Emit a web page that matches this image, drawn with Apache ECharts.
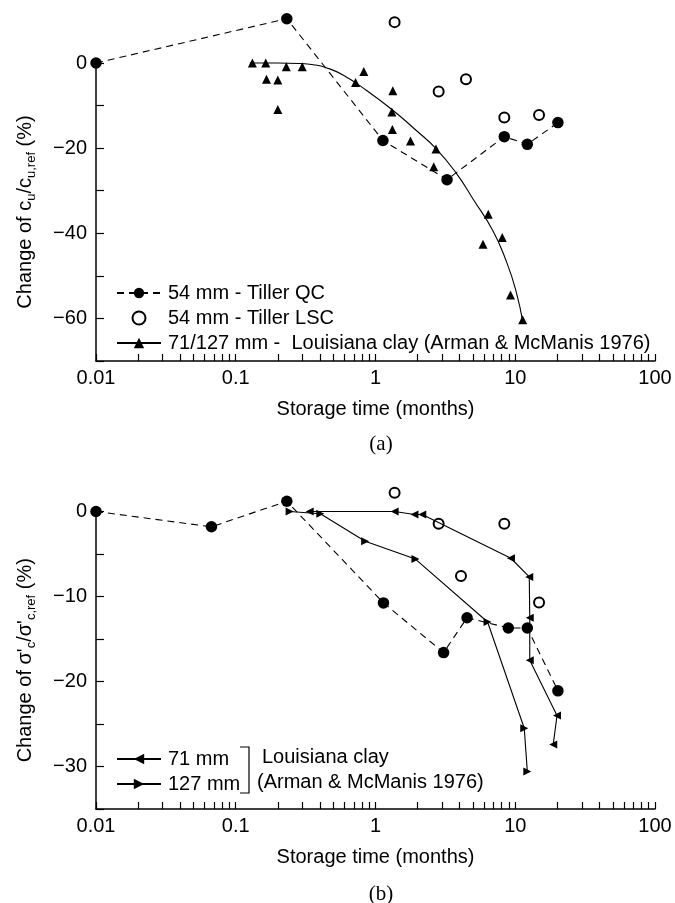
<!DOCTYPE html>
<html>
<head>
<meta charset="utf-8">
<script src="https://cdn.jsdelivr.net/npm/echarts@6/dist/echarts.min.js"></script>
<style>
  html, body { margin: 0; padding: 0; background: #fff; }
  #chart { width: 675px; height: 903px; }
</style>
</head>
<body>
<div id="chart"></div>
<script>
// storage time axis (months, log scale)
const xTickLabels = ['0.01', '0.1', '1', '10', '100'];
const xTickValues = [
  0.01, 0.02, 0.03, 0.04, 0.05, 0.06, 0.07, 0.08, 0.09,
  0.1, 0.2, 0.3, 0.4, 0.5, 0.6, 0.7, 0.8, 0.9,
  1, 2, 3, 4, 5, 6, 7, 8, 9,
  10, 20, 30, 40, 50, 60, 70, 80, 90, 100
];
const yLabelsA = [-60, -40, -20, 0];
const yLabelsB = [-30, -20, -10, 0];

// (a) change of cu/cu,ref (%)
const qcA = [[0.01, 0], [0.232, 10.4], [1.13, -18.2], [3.25, -27.4], [8.35, -17.3], [12.2, -19.1], [20.2, -14.0]];
const lscA = [[1.37, 9.6], [2.83, -6.7], [4.44, -3.8], [8.35, -12.8], [14.8, -12.2]];
const clayA = [
  [0.1315, 0], [0.164, 0], [0.23, -0.9], [0.299, -0.9], [0.166, -3.8], [0.2, -4.0], [0.2, -10.9],
  [0.825, -2.0], [0.72, -4.6], [1.33, -6.5], [1.31, -11.5], [1.32, -15.6], [1.78, -18.3],
  [2.71, -20.2], [2.61, -24.4], [6.41, -35.5], [5.88, -42.6], [8.07, -41.0], [9.25, -54.5], [11.3, -60.3]
];
const clayFitA = [
  [0.126, 0], [0.2, 0], [0.28, -0.1], [0.36, -0.4], [0.445, -1.1], [0.585, -2.8], [0.859, -6.4], [1.33, -11.1],
  [1.95, -15.8], [2.71, -20.1], [3.77, -25.8], [5.0, -32.0], [6.89, -39.3], [8.59, -46.4], [10.1, -53.4], [11.4, -61.3]
];

// (b) change of σ'c/σ'c,ref (%)
const qcB = [[0.01, 0], [0.067, -1.8], [0.232, 1.2], [1.14, -10.75], [3.07, -16.6], [4.52, -12.5], [8.92, -13.7], [12.2, -13.7], [20.2, -21.1]];
const lscB = [[1.37, 2.2], [2.83, -1.45], [4.09, -7.6], [8.35, -1.45], [14.8, -10.7]];
const mm71B = [[0.338, 0], [1.37, 0], [1.9, -0.35], [2.16, -0.35], [9.31, -5.5], [12.6, -7.7], [12.7, -12.5], [12.7, -17.5], [19.9, -24.0], [18.7, -27.4]];
const mm127B = [[0.243, 0], [0.403, -0.27], [0.843, -3.5], [1.93, -5.6], [6.34, -13.0], [11.6, -25.5], [12.2, -30.6]];

const FONT = 'Liberation Sans, Arial, sans-serif';
const SERIF = 'Liberation Serif, Times New Roman, serif';
const BLACK = '#000';

const chart = echarts.init(document.getElementById('chart'));

function xAxisFor(gridIndex) {
  return {
    type: 'log',
    logBase: 10,
    min: 0.01,
    max: 100,
    gridIndex: gridIndex,
    axisLine: { onZero: false, lineStyle: { color: BLACK, width: 1.5 } },
    axisTick: { inside: true, length: 7, customValues: xTickValues, lineStyle: { color: BLACK, width: 1.2 } },
    axisLabel: {
      color: BLACK, fontSize: 20, fontFamily: FONT, margin: 7,
      formatter: v => xTickLabels[Math.round(Math.log10(v)) + 2]
    },
    splitLine: { show: false },
    minorTick: { show: false },
    name: 'Storage time (months)',
    nameLocation: 'middle',
    nameGap: 38,
    nameTextStyle: { color: BLACK, fontSize: 20, fontFamily: FONT }
  };
}

function yAxisFor(gridIndex, min, interval, labels, name) {
  return {
    type: 'value',
    min: min,
    max: 0,
    interval: interval,
    gridIndex: gridIndex,
    axisLine: { show: true, onZero: false, lineStyle: { color: BLACK, width: 1.5 } },
    axisTick: { show: true, inside: true, length: 8, lineStyle: { color: BLACK, width: 1.2 } },
    axisLabel: {
      color: BLACK, fontSize: 20, fontFamily: FONT, margin: 9,
      formatter: v => labels.includes(v) ? (v === 0 ? '0' : '\u2212' + Math.abs(v)) : ''
    },
    splitLine: { show: false },
    name: name,
    nameLocation: 'middle',
    nameRotate: 90,
    nameGap: 58,
    nameTextStyle: {
      color: BLACK, fontSize: 20, fontFamily: FONT, lineHeight: 26,
      rich: {
        sub: { fontSize: 13, lineHeight: 13, fontFamily: FONT, color: BLACK, verticalAlign: 'bottom' }
      }
    }
  };
}

const legendText = { color: BLACK, fontSize: 20, fontFamily: FONT, lineHeight: 20, padding: [0, 0, 0, 2] };

const option = {
  animation: false,
  backgroundColor: '#fff',
  title: [
    { text: '(a)', left: 376, top: 429, textAlign: 'center', textStyle: { fontFamily: SERIF, fontSize: 21, fontWeight: 'normal', color: BLACK } },
    { text: '(b)', left: 376, top: 879, textAlign: 'center', textStyle: { fontFamily: SERIF, fontSize: 21, fontWeight: 'normal', color: BLACK } }
  ],
  grid: [
    { left: 96, top: 63, width: 559, height: 298 },
    { left: 96, top: 511.5, width: 559, height: 297.5 }
  ],
  xAxis: [xAxisFor(0), xAxisFor(1)],
  yAxis: [
    yAxisFor(0, -70, 10, yLabelsA, 'Change of c{sub|u}/c{sub|u,ref} (%)'),
    yAxisFor(1, -35, 5, yLabelsB, "Change of \u03c3'{sub|c}/\u03c3'{sub|c,ref} (%)")
  ],
  legend: [
    {
      data: ['54 mm - Tiller QC', '54 mm - Tiller LSC', '71/127 mm -  Louisiana clay (Arman & McManis 1976)'],
      orient: 'vertical', left: 111, top: 278, itemWidth: 44, itemHeight: 13, itemGap: 5,
      textStyle: legendText, selectedMode: false
    },
    {
      data: ['71 mm', '127 mm'],
      orient: 'vertical', left: 111, top: 744, itemWidth: 44, itemHeight: 13, itemGap: 5,
      textStyle: legendText, selectedMode: false
    }
  ],
  graphic: [
    { type: 'polyline', shape: { points: [[240, 747], [249, 747], [249, 793], [240, 793]] }, style: { stroke: BLACK, lineWidth: 1.2, fill: null } },
    { type: 'text', left: 262, top: 747, style: { text: 'Louisiana clay', fill: BLACK, fontSize: 20, fontFamily: FONT } },
    { type: 'text', left: 257, top: 772, style: { text: '(Arman & McManis 1976)', fill: BLACK, fontSize: 20, fontFamily: FONT } }
  ],
  series: [
    {
      name: '54 mm - Tiller QC', type: 'line', xAxisIndex: 0, yAxisIndex: 0, data: qcA, clip: false,
      symbol: 'circle', symbolSize: 11.5, itemStyle: { color: BLACK },
      lineStyle: { color: BLACK, width: 1.1, type: [7, 5] }
    },
    {
      name: '54 mm - Tiller LSC', type: 'scatter', xAxisIndex: 0, yAxisIndex: 0, data: lscA, clip: false,
      symbol: 'emptyCircle', symbolSize: 10, itemStyle: { color: BLACK, borderWidth: 1.1, opacity: 1 }
    },
    {
      name: '71/127 mm -  Louisiana clay (Arman & McManis 1976)', type: 'line', xAxisIndex: 0, yAxisIndex: 0,
      data: clayFitA, smooth: 0.5, clip: false, symbol: 'triangle', showSymbol: false,
      itemStyle: { color: BLACK }, lineStyle: { color: BLACK, width: 1.1 }
    },
    {
      name: 'clay points a', type: 'scatter', xAxisIndex: 0, yAxisIndex: 0, data: clayA, clip: false,
      symbol: 'triangle', symbolSize: 9, itemStyle: { color: BLACK, opacity: 1 }
    },
    {
      name: 'QC b', type: 'line', xAxisIndex: 1, yAxisIndex: 1, data: qcB, clip: false,
      symbol: 'circle', symbolSize: 11.5, itemStyle: { color: BLACK },
      lineStyle: { color: BLACK, width: 1.1, type: [7, 5] }
    },
    {
      name: 'LSC b', type: 'scatter', xAxisIndex: 1, yAxisIndex: 1, data: lscB, clip: false,
      symbol: 'emptyCircle', symbolSize: 10, itemStyle: { color: BLACK, borderWidth: 1.1, opacity: 1 }
    },
    {
      name: '71 mm', type: 'line', xAxisIndex: 1, yAxisIndex: 1, data: mm71B, clip: false,
      symbol: 'triangle', symbolSize: 8, symbolRotate: 90, itemStyle: { color: BLACK },
      lineStyle: { color: BLACK, width: 1.1 }
    },
    {
      name: '127 mm', type: 'line', xAxisIndex: 1, yAxisIndex: 1, data: mm127B, clip: false,
      symbol: 'triangle', symbolSize: 8, symbolRotate: -90, itemStyle: { color: BLACK },
      lineStyle: { color: BLACK, width: 1.1 }
    }
  ]
};

chart.setOption(option);
</script>
</body>
</html>
